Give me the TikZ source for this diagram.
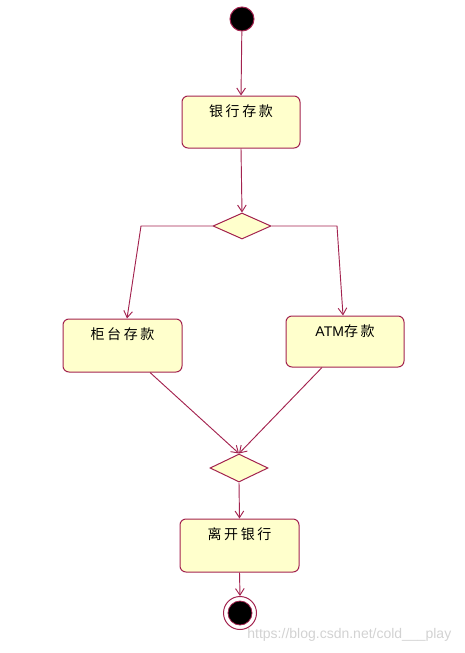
\documentclass[tikz,border=0pt]{standalone}
\usepackage{fontspec}
\setmainfont{Liberation Sans}
\newfontfamily\cjk[LetterSpace=18]{Noto Sans CJK SC}
\usetikzlibrary{arrows.meta,shapes.geometric,calc}
\definecolor{edgec}{HTML}{A3234F}
\definecolor{fillc}{HTML}{FFFFCC}
\begin{document}
\begin{tikzpicture}[x=0.75pt,y=-0.75pt,
  actbox/.style={draw=edgec,fill=fillc,rounded corners=4.5pt,line width=0.75pt,inner sep=0pt},
  boxlabel/.style={label={[anchor=north,yshift=-3.5pt,font=\cjk\fontsize{10.5}{12}\selectfont]north:#1}},
  decide/.style={draw=edgec,fill=fillc,diamond,inner sep=0pt,line width=0.75pt},
  flow/.style={draw=edgec,line width=0.7pt,-{Straight Barb[length=5pt,width=6.5pt]}},
  plain/.style={draw=edgec,line width=0.7pt}]
\useasboundingbox (0,0) rectangle (464,653);
\node[circle,fill=black,draw=edgec,line width=0.75pt,minimum size=18pt,inner sep=0pt] (start) at (242,19) {};
\node[actbox,minimum width=88.5pt,minimum height=39pt,boxlabel={银行存款}] (b1) at (241,122) {};
\node[decide,minimum width=43.5pt,minimum height=19.5pt] (d1) at (242,226) {};
\node[actbox,minimum width=89.25pt,minimum height=39.75pt,boxlabel={柜台存款}] (b2) at (122.5,345.5) {};
\node[actbox,minimum width=88.5pt,minimum height=38.25pt,boxlabel={{\rmfamily\fontsize{10.5}{12}\selectfont ATM}存款}] (b3) at (345,341.5) {};
\node[decide,minimum width=43.5pt,minimum height=21pt] (d2) at (239,468) {};
\node[actbox,minimum width=89.25pt,minimum height=39.75pt,boxlabel={离开银行}] (b4) at (239.5,545.5) {};
\node[circle,draw=edgec,fill=white,line width=0.75pt,minimum size=24.75pt,inner sep=0pt] (endo) at (240,613) {};
\node[circle,fill=black,draw=edgec,line width=0.6pt,minimum size=18pt,inner sep=0pt] (endi) at (240,613) {};
\coordinate (lb) at (141,226);
\coordinate (rb) at (337,226);
\draw[flow] (start) -- (b1.north);
\draw[flow] (b1.south) -- (d1.north);
\draw[flow] (d1.west) -- (lb) -- ($(b2.north)+(4.5,0)$);
\draw[flow] (d1.east) -- (rb) -- ($(b3.north)+(-2,0)$);
\draw[flow] ($(b2.south)+(27.5,0)$) -- (d2.north);
\draw[flow] ($(b3.south)+(-23,0)$) -- (d2.north);
\draw[flow] (d2.south) -- (b4.north);
\draw[flow] (b4.south) -- (endo.north);
\node[text=gray!35,font=\fontsize{10.5}{12}\selectfont,anchor=east] (wm) at (456,635) {https://blog.csdn.net/cold\_\_\_play};
\end{tikzpicture}
\end{document}
